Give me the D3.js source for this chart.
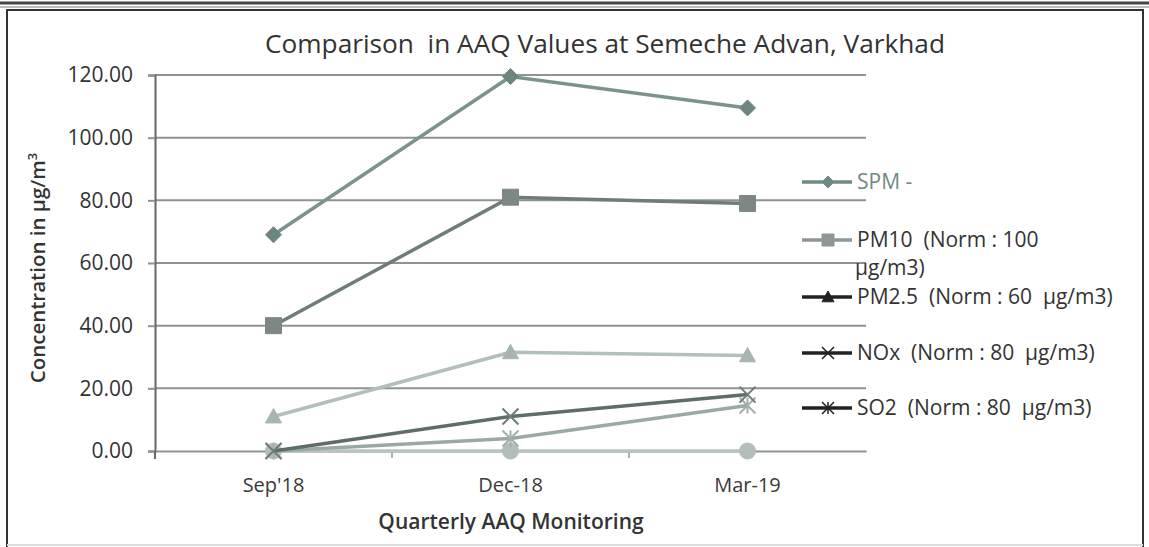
<!DOCTYPE html>
<html>
<head>
<meta charset="utf-8">
<script src="https://cdn.jsdelivr.net/npm/d3@7"></script>
<style>
  body { margin: 0; background: #fff; }
  svg { display: block; }
  text { font-family: "Open Sans", "DejaVu Sans", sans-serif; white-space: pre; }
</style>
</head>
<body>
<svg width="1149" height="547"></svg>
<script>
// data
var categories = ["Sep'18", "Dec-18", "Mar-19"];
var spm = [69, 119.5, 109.5];
var pm10 = [40, 81, 79];
var pm25 = [11, 31.5, 30.5];
var nox = [0, 11, 18];
var so2 = [0, 4, 14.5];
var other = [0, 0, 0];
var yTicks = [0, 20, 40, 60, 80, 100, 120];

var series = [
	{ name: "SPM -", values: spm, color: "#7b928d", mark: "#6d8580", symbol: "diamond", legend: "#6f8a84", text: "#6f8a84" },
	{ name: "PM10  (Norm : 100", name2: "µg/m3)", values: pm10, color: "#6f7c7a", mark: "#7d8886", symbol: "square", legend: "#8d9896", text: "#333" },
	{ name: "PM2.5  (Norm : 60  µg/m3)", values: pm25, color: "#b3bfbc", mark: "#a7b4b1", symbol: "triangle", legend: "#222", text: "#333" },
	{ name: "NOx  (Norm : 80  µg/m3)", values: nox, color: "#5f6d6a", mark: "#6f7d7a", symbol: "x", legend: "#222", text: "#333" },
	{ name: "SO2  (Norm : 80  µg/m3)", values: so2, color: "#9ba9a6", mark: "#a3b0ad", symbol: "star", legend: "#222", text: "#333" },
	{ name: null, values: other, color: "#b9c3c1", mark: "#b3bdbb", symbol: "circle" }
];

var svg = d3.select("svg");

// page frame
svg.append("line").attr("x1", 0).attr("x2", 1149).attr("y1", 3).attr("y2", 3)
	.attr("stroke", "#444").attr("stroke-width", 3);
svg.append("line").attr("x1", 0).attr("x2", 1149).attr("y1", 7).attr("y2", 7)
	.attr("stroke", "#bbb").attr("stroke-width", 2);
svg.append("path")
	.attr("d", "M7,547 V10 H1143 V547")
	.attr("fill", "none").attr("stroke", "#333").attr("stroke-width", 2);
svg.append("line").attr("x1", 7).attr("x2", 1143).attr("y1", 545).attr("y2", 545)
	.attr("stroke", "#ddd").attr("stroke-width", 2);

var margin = { left: 155, right: 866, top: 75, bottom: 451 };

var x = d3.scaleBand().domain(categories).range([margin.left, margin.right]);
var y = d3.scaleLinear().domain([0, 120]).range([margin.bottom, margin.top]);
var cx = function(i) { return x(categories[i]) + x.bandwidth() / 2; };

// title
svg.append("text")
	.attr("x", 605).attr("y", 53)
	.attr("text-anchor", "middle")
	.attr("font-size", 25)
	.attr("fill", "#333")
	.attr("textLength", 680).attr("lengthAdjust", "spacingAndGlyphs")
	.text("Comparison  in AAQ Values at Semeche Advan, Varkhad");

// gridlines
svg.append("g")
	.selectAll("line")
	.data(yTicks.filter(function(d) { return d > 0; }))
	.join("line")
	.attr("x1", margin.left).attr("x2", margin.right)
	.attr("y1", function(d) { return y(d); }).attr("y2", function(d) { return y(d); })
	.attr("stroke", "#8f9392").attr("stroke-width", 2);

// y axis
var yAxis = svg.append("g")
	.attr("transform", "translate(" + margin.left + ",0)")
	.call(d3.axisLeft(y).tickValues(yTicks).tickFormat(d3.format(".2f")).tickSize(7).tickPadding(15));
yAxis.select(".domain").attr("stroke", "#666").attr("stroke-width", 2);
yAxis.selectAll(".tick line").attr("stroke", "#8f9392").attr("stroke-width", 2);
yAxis.selectAll("text").attr("font-size", 21).attr("fill", "#333").attr("font-family", "Open Sans");

// x axis
var xAxis = svg.append("g")
	.attr("transform", "translate(0," + margin.bottom + ")")
	.call(d3.axisBottom(x).tickSize(0).tickPadding(27));
xAxis.select(".domain").attr("stroke", "#8f9392").attr("stroke-width", 2);
xAxis.selectAll("text").attr("font-size", 20).attr("font-weight", 400)
	.attr("fill", "#3a3a3a").attr("font-family", "Open Sans");
// category boundary ticks
svg.append("g")
	.selectAll("line")
	.data(categories.slice(1))
	.join("line")
	.attr("x1", function(d) { return x(d); }).attr("x2", function(d) { return x(d); })
	.attr("y1", margin.bottom).attr("y2", margin.bottom + 7)
	.attr("stroke", "#8f9392").attr("stroke-width", 1.5);
svg.append("line")
	.attr("x1", margin.left).attr("x2", margin.left)
	.attr("y1", margin.bottom).attr("y2", margin.bottom + 8)
	.attr("stroke", "#666").attr("stroke-width", 2);

// axis titles
var yTitle = svg.append("text")
	.attr("transform", "translate(45,268) rotate(-90)")
	.attr("text-anchor", "middle")
	.attr("font-size", 20.5).attr("font-weight", 600).attr("fill", "#333")
	.text("Concentration in µg/m");
yTitle.append("tspan").attr("dy", -8).attr("font-size", 13).text("3");

svg.append("text")
	.attr("x", 511).attr("y", 529)
	.attr("text-anchor", "middle")
	.attr("font-size", 21).attr("font-weight", 600).attr("fill", "#333")
	.text("Quarterly AAQ Monitoring");

// marker shapes
function markerPath(type, s) {
	if (type === "diamond") return "M0," + (-s) + "L" + s + ",0L0," + s + "L" + (-s) + ",0Z";
	if (type === "square") return "M" + (-s) + "," + (-s) + "H" + s + "V" + s + "H" + (-s) + "Z";
	if (type === "triangle") return "M0," + (-s) + "L" + s + "," + (s * 0.8) + "H" + (-s) + "Z";
	if (type === "circle") return d3.symbol().type(d3.symbolCircle).size(Math.PI * s * s)();
	if (type === "x") return "M" + (-s) + "," + (-s) + "L" + s + "," + s + "M" + s + "," + (-s) + "L" + (-s) + "," + s;
	if (type === "star") return "M" + (-s) + "," + (-s) + "L" + s + "," + s + "M" + s + "," + (-s) + "L" + (-s) + "," + s + "M0," + (-s) + "V" + s;
}
var stroked = { x: true, star: true };

var line = d3.line()
	.x(function(d, i) { return cx(i); })
	.y(function(d) { return y(d); });

// draw back to front: zero series, so2, nox, pm25, pm10, spm
series.slice().reverse().forEach(function(s) {
	svg.append("path")
		.datum(s.values)
		.attr("fill", "none")
		.attr("stroke", s.color)
		.attr("stroke-width", 3.5)
		.attr("d", line);
	svg.append("g")
		.selectAll("path")
		.data(s.values)
		.join("path")
		.attr("transform", function(d, i) { return "translate(" + cx(i) + "," + y(d) + ")"; })
		.attr("d", markerPath(s.symbol, 8))
		.attr("fill", stroked[s.symbol] ? "none" : s.mark)
		.attr("stroke", s.mark)
		.attr("stroke-width", stroked[s.symbol] ? 2 : 1);
});

// legend
var legendRows = [182, 240, 297, 353, 408];
var legend = svg.append("g");
series.filter(function(s) { return s.name; }).forEach(function(s, i) {
	var ly = legendRows[i];
	var g = legend.append("g").attr("transform", "translate(0," + ly + ")");
	g.append("line").attr("x1", 802).attr("x2", 852).attr("y1", 0).attr("y2", 0)
		.attr("stroke", s.legend).attr("stroke-width", 3.5);
	g.append("path")
		.attr("transform", "translate(828,0)")
		.attr("d", markerPath(s.symbol, 6))
		.attr("fill", stroked[s.symbol] ? "none" : s.legend)
		.attr("stroke", s.legend)
		.attr("stroke-width", stroked[s.symbol] ? 1.5 : 1);
	g.append("text").attr("x", 857).attr("y", 7)
		.attr("font-size", 21).attr("fill", s.text)
		.text(s.name);
	if (s.name2) {
		g.append("text").attr("x", 855).attr("y", 35)
			.attr("font-size", 21).attr("fill", s.text)
			.text(s.name2);
	}
});
</script>
</body>
</html>
